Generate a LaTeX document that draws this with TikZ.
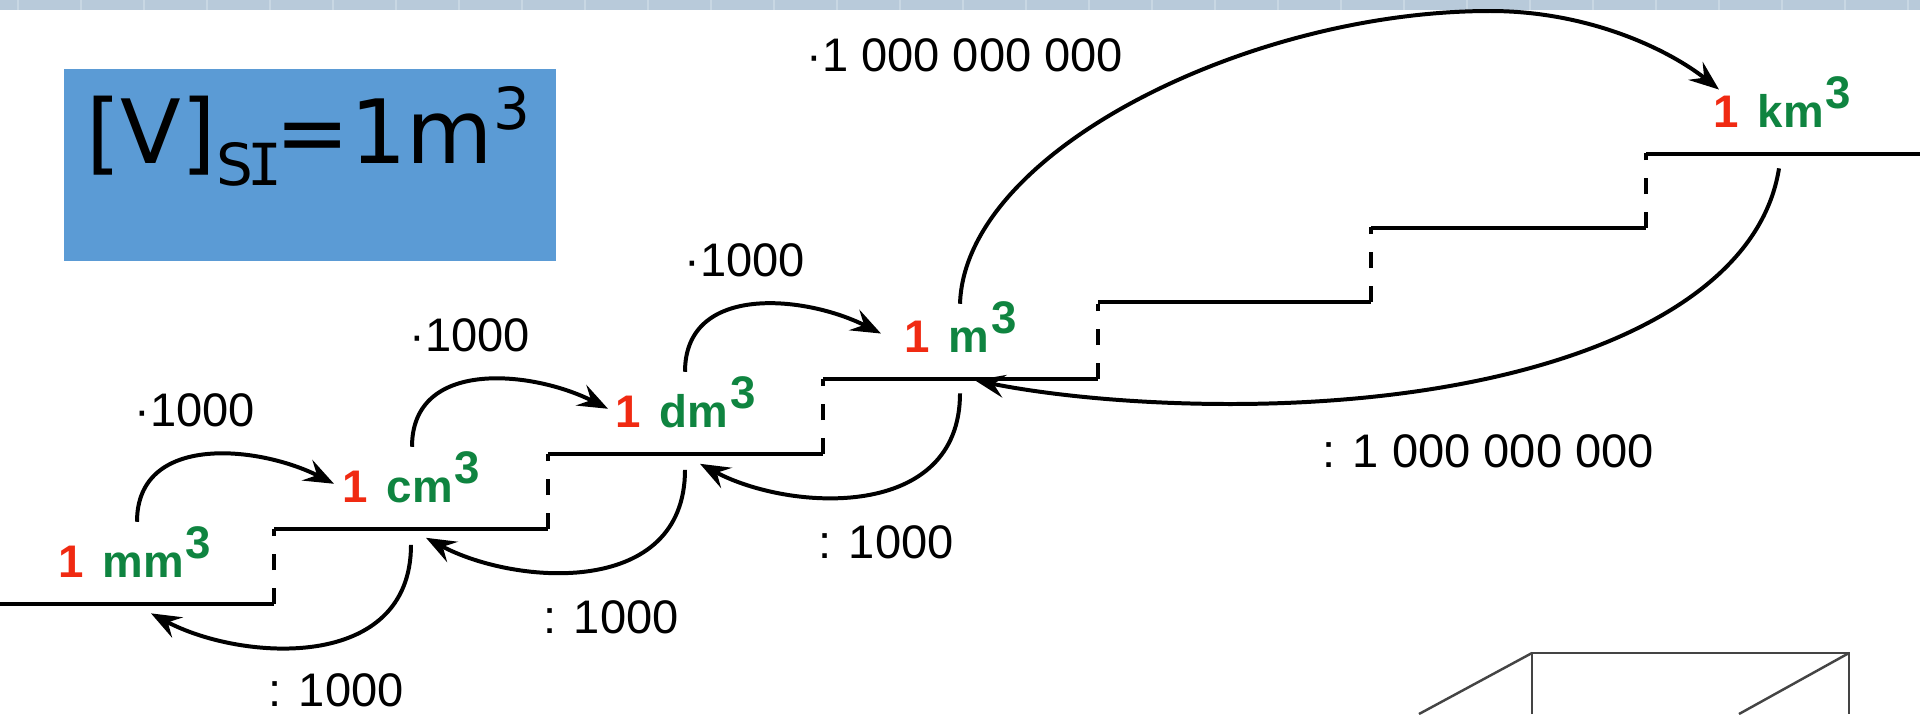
\documentclass[tikz,border=0pt]{standalone}
\usepackage{fontspec}
\setmainfont{Liberation Sans}
\newfontfamily\boxfont{DejaVu Sans}
\newfontfamily\boxserif{DejaVu Sans Mono}
\usetikzlibrary{arrows.meta,calc}
\definecolor{bandblue}{HTML}{B8CADA}
\definecolor{bandline}{HTML}{C8D7E3}
\definecolor{boxblue}{HTML}{5B9BD5}
\definecolor{unitred}{HTML}{F02A12}
\definecolor{unitgreen}{HTML}{0F8440}
\definecolor{cubeline}{HTML}{444444}
\newcommand{\unitlab}[1]{\textcolor{unitred}{\bfseries 1}\hspace{0.38cm}\textcolor{unitgreen}{\bfseries #1\hspace{0.04cm}\raisebox{0.38cm}{3}}}

\begin{document}
\begin{tikzpicture}[
  x=0.02cm, y=-0.02cm,
  >={Stealth[length=0.6cm,width=0.46cm,inset=0.22cm]},
  unit/.style={inner sep=0pt, anchor=base west, font=\fontsize{26}{26}\selectfont},
  factor/.style={inner sep=0pt, anchor=base west, font=\fontsize{26.8}{27}\selectfont},
  stair/.style={draw=black, line width=2.27pt},
  riser/.style={draw=black, line width=2.27pt, dash pattern=on 0.32cm off 0.36cm},
  arr/.style={->, draw=black, line width=2.27pt},
  cube/.style={draw=cubeline, line width=1.4pt},
]
\useasboundingbox (0,0) rectangle (1920,714);

% ---- band along the top ----
\fill[bandblue] (0,0) rectangle (1920,10);
\foreach \i in {0,...,30}
  \draw[bandline, line width=1.5pt] ({\i*63+18},0) -- ({\i*63+18},10);

% ---- unit box ----
\node[fill=boxblue, minimum width=9.84cm, minimum height=3.84cm, inner sep=0pt] (sibox) at (310,165) {};
\node[inner sep=0pt, anchor=base west, font=\boxfont\fontsize{50.5}{51}\selectfont] (sitext) at (86,163)
  {[V]\raisebox{-0.44cm}{\fontsize{33}{33}\selectfont S\hspace{-0.12cm}{\boxserif I}\hspace{-0.12cm}}=1m\raisebox{0.68cm}{\fontsize{33}{33}\selectfont 3}};

% ---- stairs ----
\foreach \a/\b/\h in {0/274/604,274/548/529,548/823/454,823/1098/379,1098/1371/302,1371/1646/228,1646/1920/154}
  \draw[stair, line cap=butt] (\a,\h) -- (\b,\h);
\foreach \b/\h in {274/604,548/529,823/454,1098/379,1371/302,1646/228}
  \draw[riser] (\b,\h) -- (\b,{\h-75});

% ---- units ----
\node[unit] (mm) at (58,577)   {\unitlab{mm}};
\node[unit] (cm) at (342,502)  {\unitlab{cm}};
\node[unit] (dm) at (615,427)  {\unitlab{dm}};
\node[unit] (mt) at (904,352)  {\unitlab{m}};
\node[unit] (km) at (1713,127) {\unitlab{km}};

% ---- factors ----
\node[factor] (up1) at (134,426) {·1000};
\node[factor] (up2) at (409,351) {·1000};
\node[factor] (up3) at (684,276) {·1000};
\node[factor] (upb) at (806,71)  {·1 000 000 000};
\node[factor] (dn1) at (268,706) {: 1000};
\node[factor] (dn2) at (543,633) {: 1000};
\node[factor] (dn3) at (818,558) {: 1000};
\node[factor] (dnb) at (1322,467) {: 1 000 000 000};

% ---- arrows up ----
\draw[arr] ([shift={(79,-4)}]mm.north west) .. controls +(0,-89) and +(-75,-38) .. ([shift={(-8,7)}]cm.west);
\draw[arr] ([shift={(70,-4)}]cm.north west) .. controls +(0,-89) and +(-75,-38) .. ([shift={(-7,7)}]dm.west);
\draw[arr] ([shift={(70,-4)}]dm.north west) .. controls +(0,-89) and +(-75,-38) .. ([shift={(-23,7)}]mt.west);
\draw[arr] ([shift={(56,3)}]mt.north west) .. controls +(5,-153) and +(-240,0) .. (1490,11)
  .. controls +(100,0) and +(-49,-39) .. ([shift={(6,-12)}]km.west);

% ---- arrows down ----
\draw[arr] ([shift={(69,42)}]cm.south west) .. controls +(0,128) and +(90,48) .. ([shift={(93,36)}]mm.south west);
\draw[arr] ([shift={(70,42)}]dm.south west) .. controls +(0,128) and +(90,48) .. ([shift={(84,35)}]cm.south west);
\draw[arr] ([shift={(56,41)}]mt.south west) .. controls +(0,128) and +(90,48) .. ([shift={(85,36)}]dm.south west);
\draw[arr] ([shift={(66,41)}]km.south west) .. controls +(-24,152) and +(290,0) .. (1230,404)
  .. controls +(-100,0) and +(70,14) .. ([shift={(71,28)}]mt.south west);

% ---- cube corner ----
\coordinate (cubea) at (1532,653);
\coordinate (cubeb) at (1849,653);
\draw[cube] (1532,714) -- (cubea) -- (cubeb) -- (1849,714);
\draw[cube] (cubea) -- (1419,714);
\draw[cube] (cubeb) -- (1739,714);
\end{tikzpicture}
\end{document}
